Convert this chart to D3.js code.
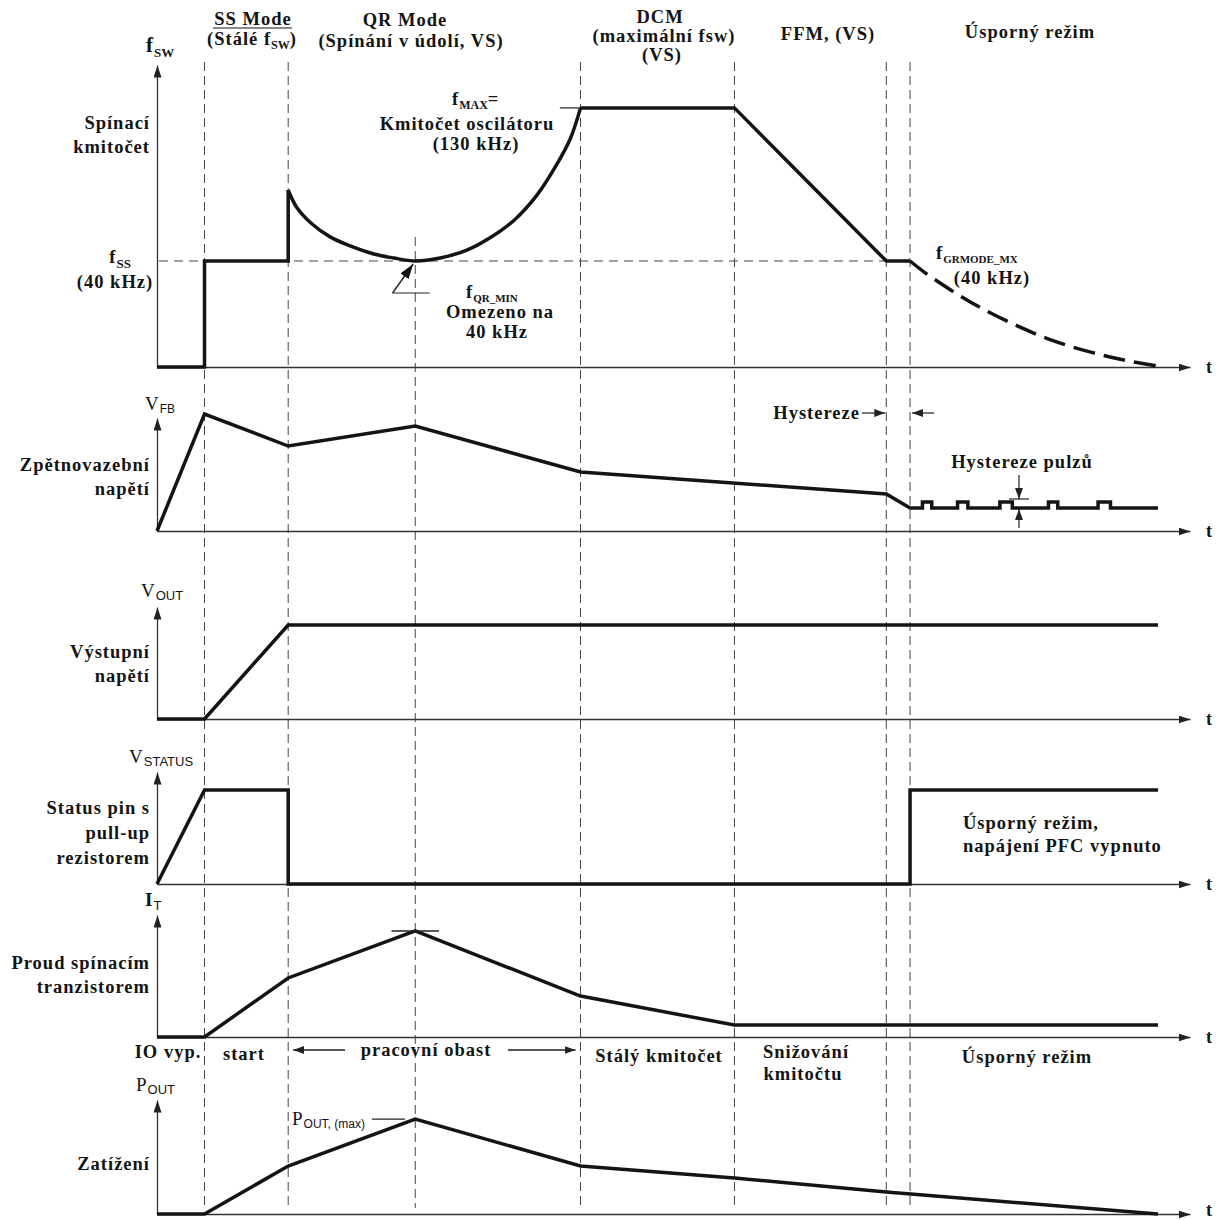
<!DOCTYPE html>
<html><head><meta charset="utf-8">
<script src="https://cdn.jsdelivr.net/npm/d3@7"></script>
<style>html,body{margin:0;padding:0;background:#fff}</style>
</head><body>
<svg id="c" width="1220" height="1220"></svg>
<script>
// ---------- DATA (time in arbitrary units 0..100, signal levels in % of axis height) ----------
const phaseBounds = [4.6, 12.7, 25.0, 41.0, 55.9, 70.6, 72.9];
const fssLevel = 35.1;
const fmaxLevel = 85.8;
const fswSteps = [[0,0],[4.6,0],[4.6,35.1],[12.7,35.1],[12.7,58.6]];
const fswQR = [[12.7,58.6],[13.5,53.0],[14.9,47.7],[16.8,43.0],[18.7,40.1],[21.0,37.4],[22.9,36.1],[25.0,35.1],
               [27.4,36.1],[30.0,38.7],[32.2,42.7],[34.6,48.7],[36.8,57.0],[38.6,66.5],[40.0,75.5],[41.0,85.8]];
const fswDCM = [[41.0,85.8],[55.9,85.8],[70.6,35.1],[72.9,35.1]];
const fswBurst = [[72.9,35.1],[74.4,31.1],[77.3,24.5],[79.8,19.5],[83.1,13.9],[86.6,8.9],[90.3,5.0],[93.6,2.3],[96.9,0.3]];
const vfb = [[0,0],[4.6,103.5],[12.7,75.2],[25.0,92.9],[41.0,52.2],[70.6,32.7],[72.9,20.4],
  [74.1,20.4],[74.1,25.7],[75.0,25.7],[75.0,20.4],
  [77.5,20.4],[77.5,25.7],[78.5,25.7],[78.5,20.4],
  [81.6,20.4],[81.6,25.7],[82.8,25.7],[82.8,20.4],
  [86.3,20.4],[86.3,25.7],[87.2,25.7],[87.2,20.4],
  [91.1,20.4],[91.1,25.7],[92.3,25.7],[92.3,20.4],[96.9,20.4]];
const vout = [[0,0],[4.6,0],[12.7,83.9],[96.9,83.9]];
const vstatus = [[0,0],[4.6,83.9],[12.7,83.9],[12.7,0],[72.9,0],[72.9,83.9],[96.9,83.9]];
const itrans = [[0,0],[4.6,0],[12.7,48.4],[25.0,86.9],[41.0,33.6],[55.9,9.8],[96.9,9.8]];
const pout = [[0,0],[4.6,0],[12.7,42.1],[25.0,83.3],[41.0,42.1],[55.9,31.6],[70.6,19.3],[96.9,0]];

const sideLabels = [["Spínací","kmitočet"],["Zpětnovazební","napětí"],["Výstupní","napětí"],
  ["Status pin s","pull-up","rezistorem"],["Proud spínacím","tranzistorem"],["Zatížení"]];

// ---------- LAYOUT ----------
const svg = d3.select('#c');
const SERIF = '"Liberation Serif","Times New Roman",serif';
const SANS = '"Liberation Sans",Arial,sans-serif';
const INK = '#141414';
const FS = 18.5, LS = 1;
const x = d3.scaleLinear().domain([0,100]).range([157,1190]);
const panels = [
  {base:367, top:65}, {base:531, top:418}, {base:719, top:607},
  {base:884, top:772}, {base:1037, top:915}, {base:1214, top:1100}];
panels.forEach(p => p.y = d3.scaleLinear().domain([0,100]).range([p.base, p.top]));

const defs = svg.append('defs');
function marker(id, w, h, color){
  defs.append('marker').attr('id',id).attr('viewBox',`0 0 ${w} ${h}`)
    .attr('refX',w).attr('refY',h/2).attr('markerWidth',w).attr('markerHeight',h)
    .attr('markerUnits','userSpaceOnUse').attr('orient','auto')
    .append('path').attr('d',`M0,0L${w},${h/2}L0,${h}Z`).attr('fill',color);
}
marker('ax',12,8,'#222');
marker('ar',11,8,'#222');
marker('big',15,10,'#111');

// vertical dashed phase lines
const dashG = svg.append('g');
phaseBounds.forEach((t,i) => {
  dashG.append('line').attr('x1',x(t)).attr('x2',x(t))
    .attr('y1', i===2 ? 237 : 62).attr('y2',1208)
    .attr('stroke','#444').attr('stroke-width',1).attr('stroke-dasharray','9,5');
});
// fss dashed level
svg.append('line').attr('x1',x(0)+2).attr('x2',x(70.6))
  .attr('y1',panels[0].y(fssLevel)).attr('y2',panels[0].y(fssLevel))
  .attr('stroke','#444').attr('stroke-width',1).attr('stroke-dasharray','9,6');

// axes
panels.forEach((p,i) => {
  const gx = svg.append('g').attr('transform',`translate(0,${p.base})`)
    .call(d3.axisBottom(x).ticks(0).tickSizeOuter(0));
  gx.select('.domain').attr('stroke','#333').attr('stroke-width',1.3).attr('marker-end','url(#ax)');
  const gy = svg.append('g').attr('transform',`translate(${x(0)},0)`)
    .call(d3.axisLeft(p.y).ticks(0).tickSizeOuter(0));
  gy.select('.domain').attr('stroke','#333').attr('stroke-width',1.3).attr('marker-end','url(#ax)');
  svg.append('text').attr('x',1206).attr('y',Math.min(p.base+6,1216)).text('t')
    .attr('font-family',SERIF).attr('font-weight','bold').attr('font-size',18).attr('fill',INK);
});

// signals
const lin = p => d3.line().x(d=>x(d[0])).y(d=>p.y(d[1]));
const crv = p => d3.line().x(d=>x(d[0])).y(d=>p.y(d[1])).curve(d3.curveCatmullRom.alpha(0.5));
function sig(d, gen, dash){
  const s = svg.append('path').attr('d',gen(d)).attr('fill','none').attr('stroke',INK)
    .attr('stroke-width',3.5).attr('stroke-linejoin','miter');
  if(dash) s.attr('stroke-dasharray',dash);
}
sig(fswSteps, lin(panels[0]));
sig(fswQR, crv(panels[0]));
sig(fswDCM, lin(panels[0]));
sig(fswBurst, crv(panels[0]), '22,9');
sig(vfb, lin(panels[1]));
sig(vout, lin(panels[2]));
sig(vstatus, lin(panels[3]));
sig(itrans, lin(panels[4]));
sig(pout, lin(panels[5]));

// thin annotation lines
function thin(x1,y1,x2,y2,m,w){
  const l = svg.append('line').attr('x1',x1).attr('y1',y1).attr('x2',x2).attr('y2',y2)
    .attr('stroke','#222').attr('stroke-width',w||1.2);
  if(m) l.attr('marker-end','url(#'+m+')');
}
const P0 = panels[0];
thin(x(39.0),P0.y(fmaxLevel),x(41.0),P0.y(fmaxLevel));       // fmax tick
thin(x(22.8),293,x(26.4),293);                                 // fQR_MIN leader
thin(x(22.8),293,x(24.8),P0.y(fssLevel)+3,'big',1.4);
thin(x(22.7),panels[4].y(86.9),x(27.3),panels[4].y(86.9),null,1.3); // I_T peak tick
thin(x(20.8),panels[5].y(83.3),x(24.0),panels[5].y(83.3));     // Pout max leader
// hysteresis arrows
thin(862,413,x(70.6)-1,413,'ar');
thin(934,413,x(72.9)+2,413,'ar');
thin(1019,475,1019,499,'ar');
thin(1009,499,1029,499);
thin(1019,528,1019,509,'ar');
// pracovní oblast arrows
thin(345,1050,x(12.7)+5,1050,'ar',1.5);
thin(508,1050,x(41.0)-5,1050,'ar',1.5);

// ---------- TEXT ----------
function rich(xx, yy, anchor, parts, fs){
  const t = svg.append('text').attr('x',xx).attr('y',yy).attr('text-anchor',anchor)
    .attr('fill',INK).attr('font-family',SERIF).attr('font-weight','bold').attr('font-size',fs||FS)
    .attr('letter-spacing',LS);
  let shift = 0;
  parts.forEach(p => {
    if(typeof p === 'string') p = {t:p};
    const s = t.append('tspan').text(p.t);
    if(p.size){ s.attr('font-size',p.size).attr('letter-spacing',0); }
    if(p.sans) s.attr('font-family',SANS);
    if(p.w) s.attr('font-weight',p.w);
    const target = p.dy||0;
    if(target!==shift){ s.attr('dy',target-shift); shift=target; }
  });
  return t;
}
function lines(xx, y0, anchor, arr, lh, fs){
  arr.forEach((s,i)=>rich(xx, y0+i*lh, anchor, [s], fs));
}

// side labels
const sideY = [129, 471, 658, 814, 969, 1170];
sideLabels.forEach((arr,i)=> lines(150, sideY[i], 'end', arr, i===3?25:24));
rich(131,263,'end',['f',{t:'SS',size:13,dy:5}]);
rich(115,288,'middle',['(40  kHz)']);

// axis titles
rich(146,52,'start',['f',{t:'SW',size:13,dy:5}],21);
rich(145,410,'start',[{t:'V',w:'normal'},{t:'FB',sans:true,size:12,w:'normal',dy:3}],19);
rich(141,597,'start',[{t:'V',w:'normal'},{t:'OUT',sans:true,size:13,w:'normal',dy:3}],19);
rich(129,763,'start',[{t:'V',w:'normal'},{t:'STATUS',sans:true,size:13,w:'normal',dy:3}],19);
rich(145,906,'start',['I',{t:'T',sans:true,size:13,w:'normal',dy:4}],19);
rich(136,1091,'start',[{t:'P',w:'normal'},{t:'OUT',sans:true,size:13,w:'normal',dy:3}],19);

// headers
rich(253,25,'middle',['SS Mode']);
svg.append('line').attr('x1',213).attr('x2',292).attr('y1',28).attr('y2',28).attr('stroke',INK).attr('stroke-width',1.2);
rich(252,45,'middle',['(Stálé f',{t:'SW',size:12,dy:4},{t:')',dy:0}]);
rich(405,26,'middle',['QR Mode']);
rich(411,47,'middle',['(Spínání v údolí, VS)']);
rich(660,23,'middle',['DCM']);
rich(664,42,'middle',['(maximální fsw)']);
rich(662,61,'middle',['(VS)']);
rich(828,40,'middle',['FFM, (VS)']);
rich(1030,38,'middle',['Úsporný režim']);

// panel 1 annotations
rich(452,105,'start',['f',{t:'MAX',size:12,dy:4},{t:'=',dy:0}]);
rich(467,130,'middle',['Kmitočet oscilátoru']);
rich(476,150,'middle',['(130 kHz)']);
rich(466,298,'start',['f',{t:'QR_MIN',size:11,dy:4}]);
rich(500,318,'middle',['Omezeno na']);
rich(497,338,'middle',['40 kHz']);
rich(936,259,'start',['f',{t:'GRMODE_MX',size:11,dy:4}]);
rich(992,284,'middle',['(40 kHz)']);

// panel 2 annotations
rich(860,419,'end',['Hystereze']);
rich(1022,468,'middle',['Hystereze pulzů']);

// status annotation
lines(963, 829, 'start', ['Úsporný režim,','napájení PFC vypnuto'], 23);

// bottom phase row
rich(168,1058,'middle',['IO vyp.']);
rich(244,1060,'middle',['start']);
rich(426,1056,'middle',['pracovní obast']);
rich(659,1062,'middle',['Stálý kmitočet']);
rich(806,1058,'middle',['Snižování']);
rich(803,1080,'middle',['kmitočtu']);
rich(1027,1063,'middle',['Úsporný režim']);

// Pout max label
rich(292,1125,'start',[{t:'P',w:'normal'},{t:'OUT, (max)',sans:true,size:12,w:'normal',dy:3}],19);
</script>
</body></html>
